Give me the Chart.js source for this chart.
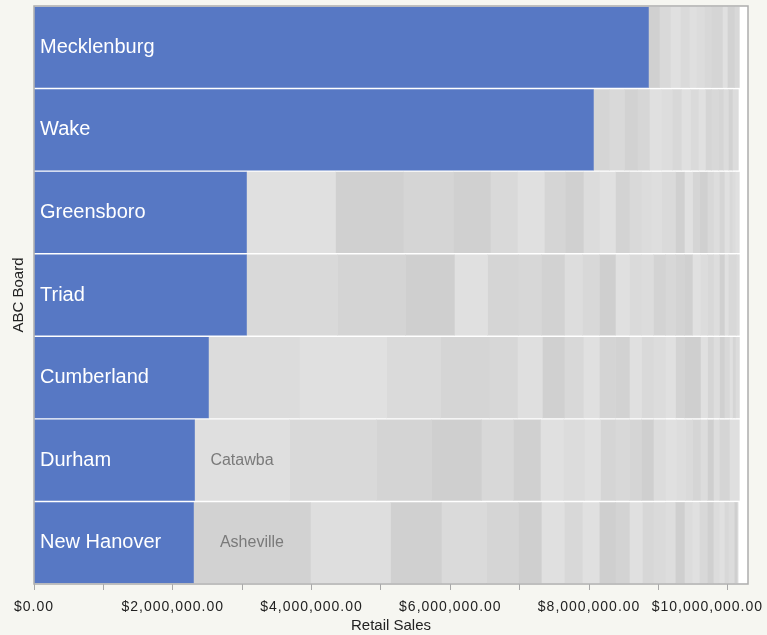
<!DOCTYPE html>
<html>
<head>
<meta charset="utf-8">
<script src="https://cdn.jsdelivr.net/npm/chart.js@4.4.1/dist/chart.umd.min.js"></script>
<style>
  html, body { margin: 0; padding: 0; background: #f6f6f1; }
  #wrap { width: 767px; height: 635px; position: relative; }
</style>
</head>
<body>
<div id="wrap"><canvas id="sales-chart"></canvas></div>
<script>
// ABC boards (rows, top to bottom) and their own retail sales (blue segment)
const boards = ['Mecklenburg', 'Wake', 'Greensboro', 'Triad', 'Cumberland', 'Durham', 'New Hanover'];
const boardSales = [8855000, 8062000, 3062000, 3062000, 2514000, 2313000, 2298000];

// remaining boards stacked after the highlighted one (grey segments), in dollars
const otherSales = [
    [158000, 158000, 144000, 130000, 101000, 115000, 101000, 158000, 72000, 101000, 72000],
    [231000, 216000, 187000, 173000, 173000, 158000, 130000, 130000, 115000, 101000, 86000, 101000, 72000, 72000, 58000, 86000],
    [1282000, 980000, 720000, 533000, 389000, 389000, 303000, 259000, 231000, 231000, 202000, 173000, 144000, 144000, 202000, 130000, 115000, 101000, 115000, 86000, 86000, 72000, 72000, 43000, 43000, 58000],
    [1311000, 980000, 706000, 476000, 447000, 331000, 331000, 259000, 245000, 231000, 202000, 173000, 173000, 173000, 144000, 130000, 115000, 115000, 101000, 86000, 86000, 72000, 58000, 115000, 43000],
    [1311000, 1254000, 778000, 706000, 403000, 360000, 317000, 274000, 231000, 231000, 202000, 173000, 173000, 173000, 144000, 130000, 231000, 101000, 86000, 86000, 72000, 72000, 43000, 43000, 58000],
    [1369000, 1254000, 792000, 720000, 461000, 389000, 331000, 303000, 231000, 216000, 202000, 173000, 173000, 173000, 158000, 130000, 101000, 115000, 101000, 86000, 86000, 144000, 144000],
    [1686000, 1153000, 735000, 648000, 461000, 331000, 331000, 259000, 245000, 231000, 202000, 187000, 158000, 173000, 144000, 130000, 115000, 101000, 115000, 86000, 86000, 72000, 58000, 86000, 43000, 14000]
];
// grey level of each of those segments
const otherShades = [
    [208, 217, 224, 218, 223, 220, 216, 213, 224, 210, 216],
    [213, 217, 210, 214, 224, 221, 216, 224, 218, 224, 213, 216, 213, 220, 210, 220],
    [224, 208, 213, 208, 217, 224, 213, 208, 220, 224, 211, 217, 220, 222, 218, 208, 224, 213, 208, 216, 221, 213, 224, 216, 220, 224],
    [217, 212, 207, 224, 213, 215, 210, 221, 216, 207, 224, 218, 220, 211, 215, 211, 208, 224, 220, 216, 221, 208, 224, 216, 220],
    [220, 224, 218, 213, 215, 223, 208, 216, 224, 212, 210, 224, 217, 220, 224, 211, 207, 224, 213, 221, 208, 216, 224, 213, 220],
    [223, 217, 212, 207, 216, 208, 224, 220, 224, 213, 216, 213, 207, 220, 224, 221, 218, 213, 220, 207, 221, 213, 223],
    [210, 222, 208, 218, 213, 207, 224, 216, 224, 207, 211, 224, 215, 218, 221, 207, 220, 224, 216, 208, 220, 224, 216, 220, 207, 224]
];
// name shown on the first grey segment of a row
const otherLabels = ['', '', '', '', '', 'Catawba', 'Asheville'];

const xTickValues = [0, 1000000, 2000000, 3000000, 4000000, 5000000, 6000000, 7000000, 8000000, 9000000, 10000000];
const xTickLabels = ['$0.00', '', '$2,000,000.00', '', '$4,000,000.00', '', '$6,000,000.00', '', '$8,000,000.00', '', '$10,000,000.00'];
const xMax = 10290000;

const BLUE = '#5778c4';

const segCount = Math.max(...otherSales.map(r => r.length));
const datasets = [{ label: 'Board', data: boardSales, backgroundColor: BLUE }];
for (let k = 0; k < segCount; k++) {
    datasets.push({
        label: 'Other ' + k,
        data: otherSales.map(r => (r[k] === undefined ? null : r[k])),
        backgroundColor: otherShades.map(r => (r[k] === undefined ? 'transparent' : `rgb(${r[k]},${r[k]},${r[k]})`))
    });
}

// white plot area + frame
const frame = {
    id: 'frame',
    beforeDatasetsDraw(chart) {
        const { ctx, chartArea: a } = chart;
        ctx.save();
        ctx.fillStyle = '#ffffff';
        ctx.fillRect(a.left, a.top, a.right - a.left, a.bottom - a.top);
        ctx.restore();
    },
    afterDraw(chart) {
        const { ctx, chartArea: a } = chart;
        ctx.save();
        ctx.strokeStyle = '#adadad';
        ctx.lineWidth = 1.5;
        ctx.strokeRect(a.left, a.top, a.right - a.left, a.bottom - a.top);
        ctx.restore();
    }
};

// board names inside the bars and x tick labels
const labels = {
    id: 'labels',
    afterDraw(chart) {
        const { ctx } = chart;
        const blueMeta = chart.getDatasetMeta(0);
        const firstGrey = chart.getDatasetMeta(1);
        ctx.save();
        ctx.textBaseline = 'middle';
        ctx.font = '20px "Liberation Sans", Arial, sans-serif';
        ctx.fillStyle = '#ffffff';
        ctx.textAlign = 'left';
        blueMeta.data.forEach((bar, i) => {
            ctx.fillText(boards[i], chart.chartArea.left + 6, bar.y);
        });
        ctx.font = '16px "Liberation Sans", Arial, sans-serif';
        ctx.fillStyle = '#7a7a7a';
        ctx.textAlign = 'center';
        firstGrey.data.forEach((bar, i) => {
            if (otherLabels[i]) ctx.fillText(otherLabels[i], (bar.base + bar.x) / 2, bar.y);
        });

        const xs = chart.scales.x;
        ctx.font = '14px "Liberation Sans", Arial, sans-serif';
        ctx.letterSpacing = '1px';
        ctx.fillStyle = '#222222';
        ctx.textAlign = 'center';
        xTickValues.forEach((v, i) => {
            const txt = xTickLabels[i];
            if (!txt) return;
            const w = ctx.measureText(txt).width;
            let x = xs.getPixelForValue(v);
            if (x + w / 2 > chart.width - 4) x = chart.width - 4 - w / 2;
            ctx.fillText(txt, x, xs.top + 23);
        });
        ctx.restore();
    }
};

const ctx = document.getElementById('sales-chart').getContext('2d');
new Chart(ctx, {
    type: 'bar',
    data: { labels: boards, datasets: datasets },
    plugins: [frame, labels],
    options: {
        indexAxis: 'y',
        responsive: true,
        maintainAspectRatio: false,
        animation: false,
        layout: { padding: { top: 6, right: 19, left: 0, bottom: 0 } },
        datasets: {
            bar: { categoryPercentage: 1, barPercentage: 0.975, borderWidth: 0, inflateAmount: 0.33 }
        },
        plugins: { legend: { display: false }, tooltip: { enabled: false }, title: { display: false } },
        scales: {
            x: {
                stacked: true,
                min: 0,
                max: xMax,
                afterBuildTicks: scale => { scale.ticks = xTickValues.map(v => ({ value: v })); },
                afterFit: scale => { scale.height = 51; scale.paddingLeft = 0; scale.paddingRight = 0; },
                ticks: { display: false },
                grid: { drawOnChartArea: false, drawTicks: true, tickLength: 6, color: '#a8a8a8' },
                border: { display: false },
                title: {
                    display: true,
                    text: 'Retail Sales',
                    color: '#222222',
                    font: { family: '"Liberation Sans", Arial, sans-serif', size: 15 },
                    padding: { top: 0, bottom: 0 }
                }
            },
            y: {
                stacked: true,
                afterFit: scale => { scale.width = 34; },
                ticks: { display: false },
                grid: { display: false },
                border: { display: false },
                title: {
                    display: true,
                    text: 'ABC Board',
                    color: '#222222',
                    font: { family: '"Liberation Sans", Arial, sans-serif', size: 15 },
                    padding: { top: 10, bottom: 0 }
                }
            }
        }
    }
});
</script>
</body>
</html>
